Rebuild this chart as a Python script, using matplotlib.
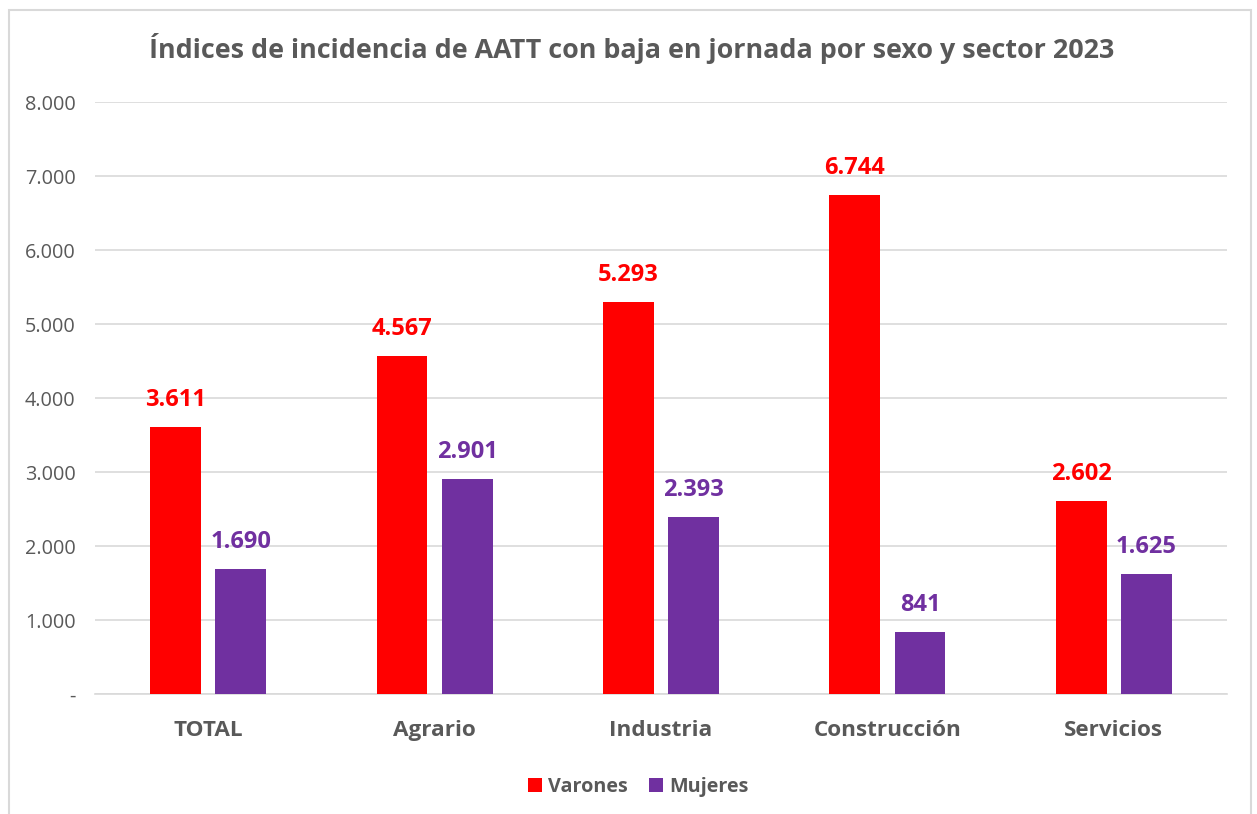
import matplotlib
matplotlib.use("Agg")
import matplotlib.pyplot as plt
from matplotlib.ticker import FuncFormatter
from matplotlib.patches import Rectangle
import numpy as np

categories = ["TOTAL", "Agrario", "Industria", "Construcción", "Servicios"]
varones = [3611, 4567, 5293, 6744, 2602]
mujeres = [1690, 2901, 2393, 841, 1625]
series_names = ["Varones", "Mujeres"]
yticks = [0, 1000, 2000, 3000, 4000, 5000, 6000, 7000, 8000]

RED = "#FF0000"
PURPLE = "#7030A0"
GRAY = "#595959"
GRID = "#D9D9D9"
FONT = ["Open Sans", "DejaVu Sans"]

plt.rcParams["font.family"] = FONT

fig = plt.figure(figsize=(12.57, 8.14), dpi=100)
ax = fig.add_axes([95/1257, 1-694/814, (1227-95)/1257, (694-102)/814])

x = np.arange(len(categories))
w = 0.225
off = 0.144
b1 = ax.bar(x - off, varones, w, color=RED, label=series_names[0], zorder=3)
b2 = ax.bar(x + off, mujeres, w, color=PURPLE, label=series_names[1], zorder=3)

def fmt(v):
    if v == 0:
        return "-"
    return f"{int(v):,}".replace(",", ".")

for bars, vals, col in ((b1, varones, RED), (b2, mujeres, PURPLE)):
    for r, v in zip(bars, vals):
        ax.annotate(fmt(v), (r.get_x() + r.get_width()/2, v), xytext=(0, 19.5),
                    textcoords="offset points", ha="center", va="center",
                    fontsize=17, fontweight="bold", color=col)

ax.set_xlim(-0.5, len(categories) - 0.5)
ax.set_ylim(0, 8000)
ax.set_yticks(yticks)
ax.yaxis.set_major_formatter(FuncFormatter(lambda v, p: fmt(v)))
ax.set_xticks(x)
ax.set_xticklabels(categories, fontsize=16.2, fontweight="bold", color=GRAY)
ax.tick_params(axis="y", labelsize=14.3, labelcolor=GRAY, length=0, pad=14)
ax.tick_params(axis="x", length=0, pad=18.5)
ax.grid(axis="y", color=GRID, linewidth=1.2, zorder=0)
for s in ("top", "right", "left"):
    ax.spines[s].set_visible(False)
ax.spines["bottom"].set_color(GRID)
ax.spines["bottom"].set_linewidth(1.2)

fig.text(632/1257, 1-48/814, "Índices de incidencia de AATT con baja en jornada por sexo y sector 2023",
         ha="center", va="center", fontsize=19.35, fontweight="bold", color=GRAY)

leg = fig.legend(loc="center", bbox_to_anchor=(638/1257, 1-787/814), ncol=2, frameon=False,
                 fontsize=14.2, handlelength=0.7, handleheight=0.7, columnspacing=1.1,
                 handletextpad=0.3)
for t in leg.get_texts():
    t.set_color(GRAY)
    t.set_fontweight("bold")

fig.patches.append(Rectangle((9/1257, -0.05), (1251-9)/1257, 1.05 - 10/814,
                             transform=fig.transFigure, fill=False, edgecolor=GRID,
                             linewidth=1.5))

fig.savefig("out.png", dpi=100)
